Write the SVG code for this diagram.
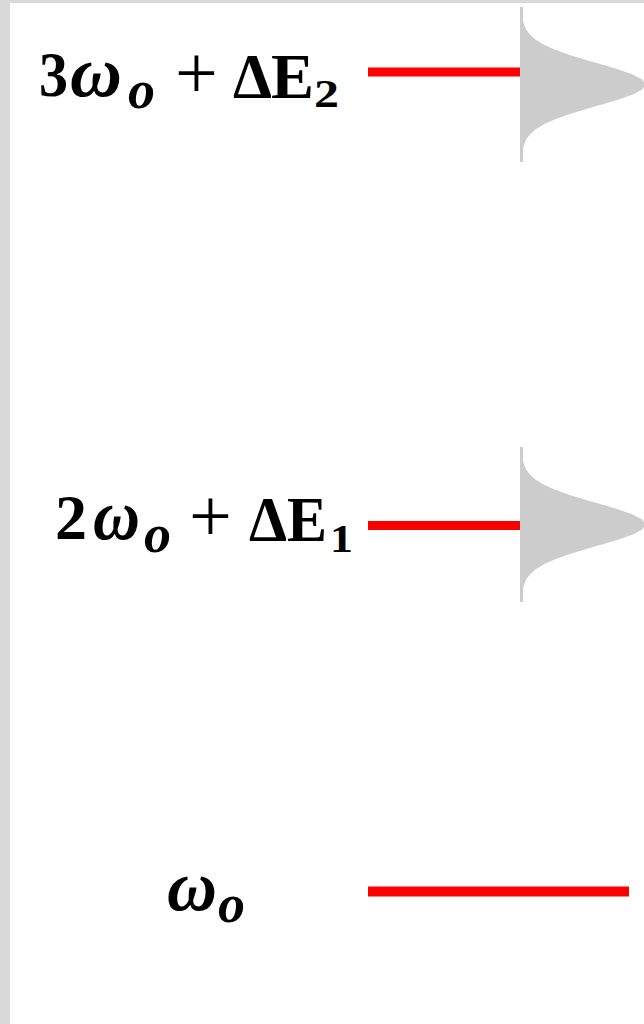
<svg xmlns="http://www.w3.org/2000/svg" width="644" height="1024" viewBox="0 0 644 1024">
<style>
.t{font-family:"Liberation Serif","DejaVu Serif",serif;fill:#000}
.b{font-weight:bold}
.bi{font-weight:bold;font-style:italic}
.lvl{stroke:#ff0000;stroke-width:9;fill:none}
.g{fill:#cccccc}
.gl{stroke:#cccccc;stroke-width:3;fill:none}
</style>
<defs>
<path id="gauss" d="M0,-77.5 L0.6,-70 L1.3,-65 L2.5,-60 L4.7,-55 L8.3,-50 L13.9,-45 L22,-40 L33,-35 L46.8,-30 L63.1,-25 L80.4,-20 L97.2,-15 L111.3,-10 L120.7,-5 L124,0 L120.7,5 L111.3,10 L97.2,15 L80.4,20 L63.1,25 L46.8,30 L33,35 L22,40 L13.9,45 L8.3,50 L4.7,55 L2.5,60 L1.3,65 L0.6,70 L0,77.5 Z"/>
</defs>
<rect x="0" y="0" width="644" height="3" fill="#d9d9d9"/>
<rect x="0" y="0" width="10" height="1024" fill="#d9d9d9"/>
<g id="connectors">
<line class="lvl" x1="368" y1="72" x2="520" y2="72"/>
<line class="lvl" x1="368" y1="525.5" x2="520" y2="525.5"/>
<line class="lvl" x1="368" y1="891.5" x2="629" y2="891.5" style="stroke-width:10"/>
</g>
<g id="level3">
<use href="#gauss" class="g" transform="translate(521.5,84.5)"/>
<line class="gl" x1="521.5" y1="7" x2="521.5" y2="162"/>
<text class="t" font-size="64" y="96"><tspan class="b" x="39" textLength="29" lengthAdjust="spacingAndGlyphs">3</tspan><tspan class="bi" x="70" font-size="72" textLength="52" lengthAdjust="spacingAndGlyphs">ω</tspan><tspan class="bi" x="128" y="108" font-size="54">o</tspan><tspan x="175" y="98" font-size="76">+</tspan><tspan class="b" x="233" textLength="39" lengthAdjust="spacingAndGlyphs">Δ</tspan><tspan class="b" x="271" textLength="43" lengthAdjust="spacingAndGlyphs">E</tspan><tspan class="b" x="314" y="107" font-size="40" textLength="25" lengthAdjust="spacingAndGlyphs">2</tspan></text>
</g>
<g id="level2">
<use href="#gauss" class="g" transform="translate(521.5,524.5)"/>
<line class="gl" x1="521.5" y1="447" x2="521.5" y2="602"/>
<text class="t" font-size="64" y="539"><tspan class="b" x="55" textLength="32" lengthAdjust="spacingAndGlyphs">2</tspan><tspan class="bi" x="93" font-size="72" textLength="47" lengthAdjust="spacingAndGlyphs">ω</tspan><tspan class="bi" x="144" y="552" font-size="54">o</tspan><tspan x="189" y="541" font-size="76">+</tspan><tspan class="b" x="249" textLength="38" lengthAdjust="spacingAndGlyphs">Δ</tspan><tspan class="b" x="287" textLength="40" lengthAdjust="spacingAndGlyphs">E</tspan><tspan class="b" x="330" y="552" font-size="40" textLength="23" lengthAdjust="spacingAndGlyphs">1</tspan></text>
</g>
<g id="level1">
<text class="t" font-size="64" y="910"><tspan class="bi" x="167" font-size="72" textLength="50" lengthAdjust="spacingAndGlyphs">ω</tspan><tspan class="bi" x="218" y="922" font-size="54">o</tspan></text>
</g>
</svg>
